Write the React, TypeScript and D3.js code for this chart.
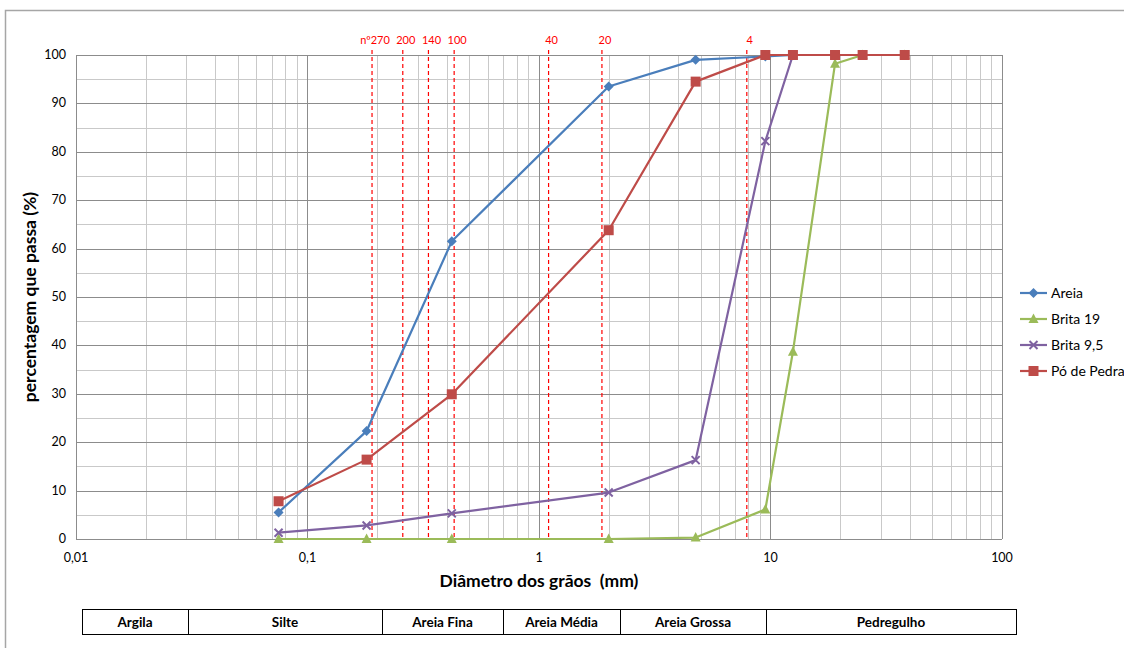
import React, { useEffect, useRef } from 'react'
import * as d3 from 'd3'

// sieve openings (mm)
const sizes = [0.075, 0.18, 0.42, 2.0, 4.75, 9.5, 12.5, 19, 25, 38]

const areia = [5.5, 22.3, 61.5, 93.5, 99.0, 99.7, 100, null, null, null]
const brita19 = [0, 0, 0, 0, 0.3, 6.1, 38.7, 98.2, 100, 100]
const brita95 = [1.3, 2.8, 5.3, 9.6, 16.3, 82.2, 100, 100, null, null]
const poDePedra = [7.8, 16.4, 29.9, 63.8, 94.5, 100, 100, 100, 100, 100]

const seriesNames = ['Areia', 'Brita 19', 'Brita 9,5', 'Pó de Pedra']

// dashed reference sieves
const sieveLabels = ['nº270', '200', '140', '100', '40', '20', '4']
const sieveSizes = [0.19, 0.258, 0.333, 0.43, 1.1, 1.87, 7.9]

const xTicks = [0.01, 0.1, 1, 10, 100]
const xTickLabels = ['0,01', '0,1', '1', '10', '100']
const yTicks = [0, 10, 20, 30, 40, 50, 60, 70, 80, 90, 100]

const soilClasses = ['Argila', 'Silte', 'Areia Fina', 'Areia Média', 'Areia Grossa', 'Pedregulho']

const W = 1124
const H = 648
const FONT = 'Lato, "Open Sans", sans-serif'

class Chart {
  left = 76
  right = 1002
  top = 55
  bottom = 539
}

export default function App() {
  const ref = useRef<SVGSVGElement>(null)

  useEffect(() => {
    const dims = new Chart()
    const svg = d3.select(ref.current)
    svg.selectAll('*').remove()

    const x = d3.scaleLog().domain([0.01, 100]).range([dims.left, dims.right])
    const y = d3.scaleLinear().domain([0, 100]).range([dims.bottom, dims.top])

    // outer frame
    svg.append('path')
      .attr('d', `M5.5,${H} L5.5,10.5 L${W},10.5`)
      .attr('fill', 'none')
      .attr('stroke', '#a6a6a6')
      .attr('stroke-width', 1.5)

    const grid = svg.append('g')

    // minor vertical grid
    const minor: number[] = []
    for (let e = -2; e < 2; e++) {
      for (let m = 2; m <= 9; m++) minor.push(m * Math.pow(10, e))
    }
    grid.selectAll('line.vmin').data(minor).enter().append('line')
      .attr('x1', d => Math.round(x(d)) + 0.5).attr('x2', d => Math.round(x(d)) + 0.5)
      .attr('y1', dims.top).attr('y2', dims.bottom)
      .attr('stroke', '#c9c9c9').attr('stroke-width', 1)

    // minor horizontal grid (every 5)
    const yMinor = d3.range(5, 100, 10)
    grid.selectAll('line.hmin').data(yMinor).enter().append('line')
      .attr('x1', dims.left).attr('x2', dims.right)
      .attr('y1', d => Math.round(y(d)) + 0.5).attr('y2', d => Math.round(y(d)) + 0.5)
      .attr('stroke', '#c9c9c9').attr('stroke-width', 1)

    grid.selectAll('line.vmaj').data(xTicks).enter().append('line')
      .attr('x1', d => Math.round(x(d)) + 0.5).attr('x2', d => Math.round(x(d)) + 0.5)
      .attr('y1', dims.top).attr('y2', dims.bottom)
      .attr('stroke', '#8c8c8c').attr('stroke-width', 1)

    grid.selectAll('line.hmaj').data(yTicks).enter().append('line')
      .attr('x1', dims.left).attr('x2', dims.right)
      .attr('y1', d => Math.round(y(d)) + 0.5).attr('y2', d => Math.round(y(d)) + 0.5)
      .attr('stroke', '#8c8c8c').attr('stroke-width', 1)

    // tick labels
    svg.selectAll('text.ytick').data(yTicks).enter().append('text')
      .attr('x', dims.left - 10).attr('y', d => y(d) + 4)
      .attr('text-anchor', 'end')
      .attr('font-family', FONT).attr('font-size', 12.5).attr('fill', '#000')
      .text(d => d)

    svg.selectAll('text.xtick').data(xTicks).enter().append('text')
      .attr('x', d => x(d)).attr('y', dims.bottom + 23)
      .attr('text-anchor', 'middle')
      .attr('font-family', FONT).attr('font-size', 12.5).attr('fill', '#000')
      .text((d, i) => xTickLabels[i])

    // dashed sieve lines
    svg.selectAll('line.sieve').data(sieveSizes).enter().append('line')
      .attr('x1', d => x(d)).attr('x2', d => x(d))
      .attr('y1', 50).attr('y2', dims.bottom)
      .attr('stroke', '#ff0000').attr('stroke-width', 1.2)
      .attr('stroke-dasharray', '4,3')

    svg.selectAll('text.sieve').data(sieveSizes).enter().append('text')
      .attr('x', d => x(d) + 3).attr('y', 44)
      .attr('text-anchor', 'middle')
      .attr('font-family', FONT).attr('font-size', 11).attr('fill', '#ff0000')
      .text((d, i) => sieveLabels[i])

    // series
    const colors = ['#4a7ebb', '#9bbb59', '#7f62a1', '#be4b48']
    const allSeries = [areia, brita19, brita95, poDePedra]
    const line = d3.line<[number, number]>()
      .x(d => x(d[0])).y(d => y(d[1]))

    const drawMarker = (g: any, kind: number, color: string, cx: number, cy: number) => {
      if (kind === 0) {
        g.append('path').attr('d', `M${cx},${cy - 5} L${cx + 5},${cy} L${cx},${cy + 5} L${cx - 5},${cy} Z`)
          .attr('fill', color)
      } else if (kind === 1) {
        g.append('path').attr('d', `M${cx},${cy - 5.5} L${cx + 5},${cy + 4} L${cx - 5},${cy + 4} Z`)
          .attr('fill', color)
      } else if (kind === 2) {
        g.append('path').attr('d', `M${cx - 4},${cy - 4} L${cx + 4},${cy + 4} M${cx - 4},${cy + 4} L${cx + 4},${cy - 4}`)
          .attr('stroke', color).attr('stroke-width', 2).attr('fill', 'none')
      } else {
        g.append('rect').attr('x', cx - 5).attr('y', cy - 5).attr('width', 10).attr('height', 10)
          .attr('fill', color)
      }
    }

    allSeries.forEach((vals, si) => {
      const pts: [number, number][] = []
      vals.forEach((v, i) => { if (v !== null) pts.push([sizes[i], v as number]) })
      const g = svg.append('g')
      g.append('path').attr('d', line(pts))
        .attr('fill', 'none').attr('stroke', colors[si]).attr('stroke-width', 2.2)
        .attr('stroke-linejoin', 'round')
      pts.forEach(p => drawMarker(g, si, colors[si], x(p[0]), y(p[1])))
    })

    // legend
    const lg = svg.append('g')
    seriesNames.forEach((name, i) => {
      const ly = 293 + i * 26
      lg.append('line').attr('x1', 1020).attr('x2', 1047).attr('y1', ly).attr('y2', ly)
        .attr('stroke', colors[i]).attr('stroke-width', 2.2)
      drawMarker(lg, i, colors[i], 1033.5, ly)
      lg.append('text').attr('x', 1051).attr('y', ly + 5)
        .attr('font-family', FONT).attr('font-size', 14).attr('fill', '#000')
        .text(name)
    })

    // axis titles
    svg.append('text')
      .attr('transform', `translate(36,${(dims.top + dims.bottom) / 2}) rotate(-90)`)
      .attr('text-anchor', 'middle')
      .attr('font-family', FONT).attr('font-size', 17.5).attr('font-weight', 'bold')
      .text('percentagem que passa (%)')

    svg.append('text')
      .attr('x', (dims.left + dims.right) / 2).attr('y', 587)
      .attr('text-anchor', 'middle')
      .attr('font-family', FONT).attr('font-size', 17.5).attr('font-weight', 'bold')
      .attr('xml:space', 'preserve')
      .style('white-space', 'pre')
      .text('Diâmetro dos grãos  (mm)')

    // soil classification table
    const cols = [82, 188, 382, 503, 620, 766, 1016]
    const tTop = 609
    const tBot = 634
    const tg = svg.append('g')
    tg.append('rect').attr('x', cols[0] + 0.5).attr('y', tTop + 0.5)
      .attr('width', cols[cols.length - 1] - cols[0]).attr('height', tBot - tTop)
      .attr('fill', 'none').attr('stroke', '#000').attr('stroke-width', 1)
    soilClasses.forEach((c, i) => {
      if (i > 0) {
        tg.append('line').attr('x1', cols[i] + 0.5).attr('x2', cols[i] + 0.5)
          .attr('y1', tTop).attr('y2', tBot).attr('stroke', '#000')
      }
      tg.append('text').attr('x', (cols[i] + cols[i + 1]) / 2).attr('y', tTop + 17.5)
        .attr('text-anchor', 'middle')
        .attr('font-family', FONT).attr('font-size', 13.5).attr('font-weight', 'bold')
        .text(c)
    })
  }, [])

  return (
    <svg ref={ref} width={W} height={H}
      style={{ position: 'absolute', left: 0, top: 0, background: '#fff' }} />
  )
}
